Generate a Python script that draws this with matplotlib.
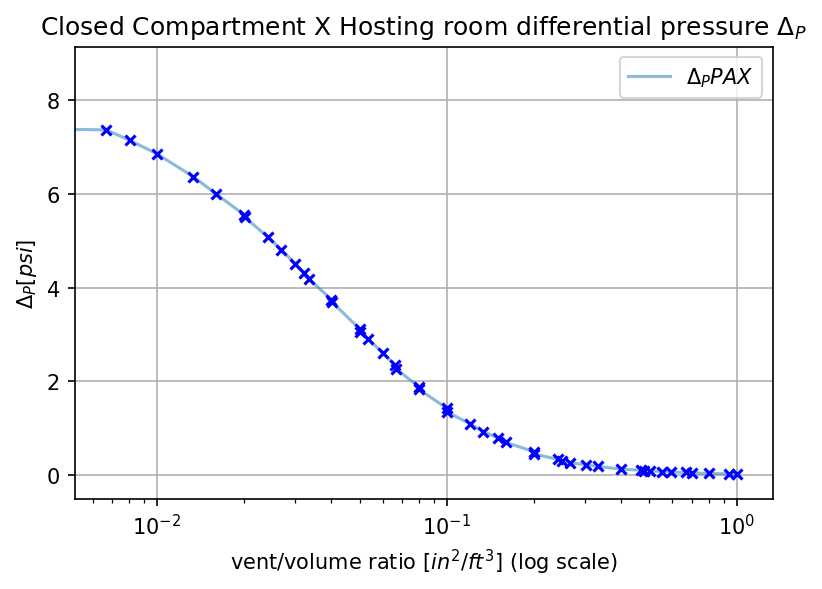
import numpy as np
import matplotlib
matplotlib.use("Agg")
import matplotlib.pyplot as plt

# vent/volume ratio [in^2/ft^3] and differential pressure [psi]
ratio = [0.00668, 0.00805, 0.0100, 0.01337, 0.01604, 0.0200, 0.0201, 0.0241, 0.0268,
         0.0300, 0.0321, 0.0334, 0.0400, 0.0402, 0.0500, 0.0501, 0.0535, 0.0602,
         0.0665, 0.0667, 0.0800, 0.0801, 0.1000, 0.1000, 0.1200, 0.1336, 0.1506,
         0.1600, 0.2000, 0.2005, 0.2415, 0.2500, 0.2650, 0.3030, 0.3310, 0.4000,
         0.4660, 0.4800, 0.5040, 0.5530, 0.5910, 0.6670, 0.7030, 0.8000, 0.9390, 1.0000]
dp = [7.36, 7.14, 6.85, 6.36, 5.99, 5.55, 5.50, 5.08, 4.81,
      4.51, 4.32, 4.19, 3.74, 3.69, 3.12, 3.06, 2.91, 2.60,
      2.34, 2.27, 1.89, 1.83, 1.43, 1.35, 1.10, 0.93, 0.79,
      0.70, 0.50, 0.45, 0.34, 0.30, 0.27, 0.22, 0.19, 0.13,
      0.11, 0.10, 0.09, 0.08, 0.07, 0.06, 0.05, 0.04, 0.03, 0.02]

# curve starts flat at the left edge of the plot
line_x = [0.0052] + ratio
line_y = [7.37] + dp

fig = plt.figure(figsize=(5.48, 3.933), dpi=150)
ax = fig.add_axes([0.091, 0.153, 0.849, 0.766])

ax.plot(line_x, line_y, color='#1f77b4', alpha=0.5, lw=1.5, label=r'$\Delta_P PAX$')
ax.plot(ratio, dp, 'x', color='blue', ms=5, mew=1.5)

ax.set_xscale('log')
ax.set_xlim(0.00521, 1.33)
ax.set_ylim(-0.5, 9.13)
ax.grid(True, color='#b0b0b0')
ax.set_title(r'Closed Compartment X Hosting room differential pressure $\Delta_P$')
ax.set_xlabel(r'vent/volume ratio [$in^2/ft^3$] (log scale)')
ax.set_ylabel(r'$\Delta_P [psi]$')
ax.legend(loc='upper right')

plt.savefig('out.png', dpi=150)
